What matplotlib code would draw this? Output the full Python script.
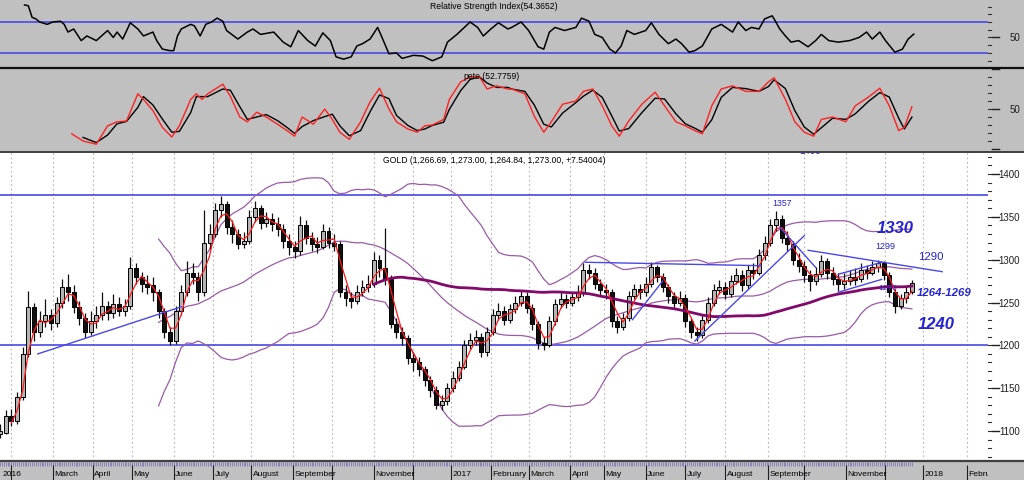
import numpy as np
import pandas as pd
import matplotlib
matplotlib.use("Agg")
import matplotlib.pyplot as plt
from matplotlib.lines import Line2D
from matplotlib.patches import Rectangle
from matplotlib.transforms import blended_transform_factory

plt.rcParams['font.family'] = ['Liberation Sans', 'DejaVu Sans']

# ---------------- data ----------------
bar_step = 3  # one candle sample every 3 trading days
closes = [1098, 1118, 1112, 1140, 1190, 1245, 1215, 1228, 1236, 1226,
          1250, 1268, 1262, 1245, 1232, 1215, 1228, 1235, 1246, 1238,
          1248, 1240, 1246, 1290, 1280, 1272, 1270, 1262, 1240, 1215,
          1205, 1240, 1262, 1285, 1280, 1262, 1320, 1330, 1358, 1365,
          1338, 1330, 1318, 1322, 1350, 1360, 1343, 1348, 1342, 1336,
          1322, 1315, 1310, 1340, 1325, 1318, 1315, 1334, 1320, 1318,
          1262, 1255, 1252, 1262, 1268, 1272, 1300, 1290, 1278, 1225,
          1215, 1208, 1185, 1180, 1172, 1160, 1148, 1130, 1135, 1150,
          1162, 1175, 1200, 1206, 1210, 1192, 1215, 1236, 1240, 1230,
          1242, 1250, 1258, 1244, 1225, 1203, 1200, 1228, 1248, 1254,
          1250, 1256, 1262, 1288, 1285, 1272, 1265, 1262, 1228, 1222,
          1232, 1258, 1266, 1262, 1272, 1292, 1280, 1268, 1258, 1250,
          1255, 1228, 1215, 1212, 1230, 1250, 1265, 1268, 1260, 1275,
          1282, 1270, 1288, 1285, 1305, 1320, 1340, 1348, 1325, 1318,
          1300, 1293, 1282, 1275, 1283, 1298, 1285, 1278, 1272, 1275,
          1280, 1278, 1288, 1285, 1292, 1296, 1282, 1262, 1246, 1255,
          1262, 1273]
highs = [1108, 1124, 1126, 1146, 1198, 1263, 1250, 1240, 1254, 1242,
         1256, 1278, 1283, 1270, 1252, 1238, 1240, 1246, 1262, 1252,
         1260, 1256, 1254, 1303, 1296, 1286, 1282, 1280, 1266, 1244,
         1222, 1246, 1270, 1298, 1296, 1286, 1358, 1342, 1366, 1374,
         1368, 1346, 1336, 1332, 1358, 1368, 1364, 1356, 1354, 1350,
         1342, 1330, 1322, 1351, 1346, 1332, 1326, 1342, 1338, 1330,
         1322, 1270, 1262, 1270, 1276, 1282, 1309, 1306, 1337, 1282,
         1232, 1222, 1212, 1192, 1186, 1176, 1164, 1152, 1142, 1156,
         1170, 1182, 1206, 1214, 1218, 1214, 1222, 1242, 1250, 1246,
         1248, 1258, 1264, 1262, 1248, 1228, 1210, 1234, 1254, 1262,
         1260, 1262, 1270, 1296, 1295, 1290, 1278, 1272, 1266, 1234,
         1238, 1264, 1272, 1272, 1280, 1297, 1294, 1284, 1272, 1262,
         1264, 1260, 1232, 1222, 1236, 1256, 1272, 1276, 1274, 1282,
         1290, 1288, 1294, 1296, 1312, 1328, 1348, 1357, 1352, 1334,
         1322, 1308, 1298, 1288, 1292, 1306, 1302, 1292, 1284, 1284,
         1288, 1290, 1296, 1294, 1299, 1300, 1298, 1286, 1266, 1260,
         1268, 1276]
lows = [1092, 1096, 1106, 1108, 1136, 1186, 1205, 1210, 1222, 1218,
        1222, 1244, 1252, 1238, 1224, 1209, 1212, 1220, 1230, 1230,
        1232, 1234, 1234, 1242, 1272, 1262, 1260, 1252, 1232, 1208,
        1200, 1202, 1236, 1258, 1272, 1252, 1258, 1312, 1326, 1350,
        1330, 1320, 1312, 1314, 1318, 1344, 1336, 1338, 1334, 1328,
        1314, 1306, 1302, 1306, 1318, 1310, 1308, 1312, 1314, 1310,
        1256, 1246, 1244, 1248, 1258, 1262, 1268, 1280, 1270, 1220,
        1208, 1200, 1178, 1170, 1164, 1152, 1140, 1126, 1124, 1130,
        1146, 1158, 1172, 1196, 1200, 1186, 1188, 1212, 1230, 1224,
        1226, 1238, 1246, 1238, 1218, 1196, 1194, 1198, 1224, 1244,
        1244, 1246, 1252, 1258, 1278, 1266, 1258, 1254, 1222, 1214,
        1218, 1228, 1254, 1254, 1258, 1268, 1274, 1262, 1250, 1244,
        1246, 1222, 1208, 1205, 1208, 1226, 1246, 1260, 1254, 1256,
        1272, 1264, 1266, 1278, 1282, 1300, 1316, 1334, 1320, 1310,
        1294, 1286, 1274, 1264, 1270, 1280, 1278, 1270, 1264, 1266,
        1270, 1270, 1274, 1278, 1282, 1286, 1276, 1256, 1238, 1242,
        1250, 1260]

rsi_idx = [13, 15, 17, 19, 21, 25, 28, 32, 34, 36, 39, 43, 46, 51, 57, 60, 62, 65, 69, 73,
           76, 81, 83, 86, 90, 92, 94, 96, 101, 103, 106, 109, 112, 115, 118, 120, 126, 131, 134, 138,
           145, 150, 154, 158, 163, 167, 171, 175, 178, 182, 186, 189, 192, 196, 200, 202, 206, 210, 213, 219,
           224, 229, 234, 237, 242, 249, 253, 256, 260, 264, 269, 271, 276, 280, 285, 288, 291, 294, 299, 305,
           308, 312, 315, 319, 323, 326, 329, 332, 336, 342, 345, 349, 354, 358, 361, 365, 368, 372, 377, 382,
           388, 391, 395, 398, 402, 405, 409, 410, 413, 416, 419, 423, 428, 432, 435, 439, 444, 450, 455, 459,
           462, 466, 469, 474, 478, 481, 484]
rsi_val = [92, 91, 76, 74, 70, 67, 70, 71, 67, 57, 61, 46, 52, 46, 59, 50, 57, 48, 69, 61,
           52, 57, 46, 35, 33, 33, 52, 61, 67, 65, 52, 67, 70, 75, 71, 59, 48, 57, 61, 54,
           57, 44, 38, 59, 46, 39, 56, 46, 25, 22, 25, 39, 42, 48, 63, 52, 29, 30, 23, 27,
           26, 20, 25, 44, 54, 70, 63, 52, 61, 69, 61, 63, 70, 59, 38, 35, 57, 63, 59, 63,
           75, 71, 54, 50, 35, 30, 39, 59, 54, 59, 69, 54, 42, 48, 42, 31, 33, 39, 61, 67,
           57, 70, 59, 63, 61, 74, 78, 74, 61, 52, 44, 46, 38, 46, 54, 46, 44, 46, 50, 57,
           48, 57, 46, 31, 35, 48, 54.37]

stoch_idx = [38, 44, 51, 57, 62, 67, 73, 76, 81, 86, 91, 95, 101, 104, 107, 110, 118, 122, 127, 131,
             136, 141, 147, 152, 156, 160, 166, 172, 176, 180, 185, 191, 196, 201, 206, 210, 216, 221, 225, 229,
             235, 238, 244, 249, 254, 258, 263, 269, 271, 278, 283, 288, 292, 298, 305, 309, 314, 319, 324, 328,
             333, 340, 347, 352, 358, 363, 368, 372, 377, 382, 388, 395, 402, 407, 410, 416, 421, 426, 431, 435,
             441, 448, 453, 460, 466, 471, 476, 479, 483]
stoch_k = [19, 10, 6, 29, 34, 35, 69, 62, 48, 27, 15, 29, 62, 69, 62, 69, 81, 66, 40, 34,
           46, 40, 31, 23, 16, 40, 31, 50, 37, 21, 12, 34, 59, 76, 50, 34, 25, 21, 29, 30,
           37, 62, 84, 90, 90, 75, 79, 75, 75, 69, 41, 21, 34, 56, 60, 72, 75, 54, 29, 16,
           35, 56, 71, 54, 34, 29, 23, 19, 54, 75, 79, 72, 72, 84, 89, 62, 34, 21, 16, 37,
           40, 34, 54, 65, 76, 54, 23, 27, 52.8]

month_idx = [6, 28, 49, 70, 92, 113, 133, 155, 176, 198, 219, 239, 260, 280, 302, 320,
             342, 363, 384, 407, 426, 448, 469, 489, 512]
month_lab = ["", "March", "April", "May", "June", "July", "August", "September", "",
             "November", "", "2017", "February", "March", "April", "May", "June", "July",
             "August", "September", "", "November", "", "2018", "February"]
first_label = "2016"

levels = [1375, 1200]
trend_lines = [((20, 1190), (96, 1245)),
               ((310, 1297), (403, 1293)),
               ((335, 1230), (351, 1275)),
               ((368, 1205), (426, 1328)),
               ((413, 1338), (432, 1291)),
               ((428, 1311), (499, 1286)),
               ((444, 1283), (467, 1297)),
               ((444, 1262), (467, 1277))]

notes = [("1357", 414, 1367, 6.3, 'normal', 'normal'),
         ("1299", 469, 1316, 6.5, 'normal', 'normal'),
         ("1290", 493, 1304, 8.2, 'normal', 'normal'),
         ("1270", 470, 1267, 6.0, 'normal', 'normal'),
         ("1330", 474, 1338, 12, 'bold', 'italic'),
         ("1264-1269", 500, 1262, 8.2, 'bold', 'italic'),
         ("1240", 496, 1226, 12, 'bold', 'italic'),
         ("1400", 429, 1428, 7, 'normal', 'normal')]

# ---------------- layout ----------------
W, H = 1024, 481
PLOT_W = 988
PX_PER_BAR = 1.888
XMAX = PLOT_W / PX_PER_BAR
GRAY = '#c0c0c0'
BLUE = '#4848e8'
NOTE_BLUE = '#2424d0'

fig = plt.figure(figsize=(W / 100, H / 100), dpi=100)
fig.patch.set_facecolor('white')


def fy(py):
    return 1 - py / H


def fx(px):
    return px / W


fig.patches.append(Rectangle((0, fy(153)), 1, 153 / H, transform=fig.transFigure,
                             facecolor=GRAY, edgecolor='none', zorder=-5))
fig.patches.append(Rectangle((0, 0), 1, 19 / H, transform=fig.transFigure,
                             facecolor=GRAY, edgecolor='none', zorder=-5))


def make_ax(top, bottom, face):
    ax = fig.add_axes([0, fy(bottom), PLOT_W / W, (bottom - top) / H])
    ax.set_facecolor(face)
    for s in ax.spines.values():
        s.set_visible(False)
    ax.set_xticks([])
    ax.set_yticks([])
    ax.set_xlim(0, XMAX)
    return ax


ax_rsi = make_ax(0, 68, GRAY)
ax_sto = make_ax(69, 153, GRAY)
ax_main = make_ax(153, 462, 'white')
ax_bot = make_ax(462, 481, GRAY)

ax_rsi.set_ylim(11.9, 99.7)
ax_sto.set_ylim(-3.75, 101.25)
ax_main.set_ylim(1065, 1425.7)
ax_bot.set_ylim(0, 19)


def right_axis(ax, minor_vals, major_vals, labels):
    tr = blended_transform_factory(fig.transFigure, ax.transData)
    for v in minor_vals:
        ax.add_line(Line2D([fx(987.5), fx(991)], [v, v], transform=tr, color='#303030',
                           lw=0.8, clip_on=False))
    for v in major_vals:
        ax.add_line(Line2D([fx(992), fx(998.5)], [v, v], transform=tr, color='#202020',
                           lw=1.0, clip_on=False))
    for v, t in labels:
        ax.text(fx(1020), v, t, transform=tr, ha='right', va='center', fontsize=7,
                color='#202020')


right_axis(ax_rsi, range(20, 100, 10), [50], [(50, "50")])
right_axis(ax_sto, range(10, 100, 10), [0, 50, 100], [(50, "50")])
right_axis(ax_main, range(1070, 1430, 10), range(1100, 1401, 50),
           [(v, str(v)) for v in range(1100, 1401, 50)])

# ---------------- RSI ----------------
for lv in (70, 30):
    ax_rsi.axhline(lv, color=BLUE, lw=1.2)
ax_rsi.plot(rsi_idx, rsi_val, color='black', lw=1.1)
ax_rsi.text(0.5, 0.90, "Relative Strength Index(54.3652)", transform=ax_rsi.transAxes,
            ha='center', va='center', fontsize=6.2)

# ---------------- Stochastic ----------------
sk = pd.Series(stoch_k, dtype=float)
sd = sk.rolling(2).mean()
ax_sto.plot(stoch_idx, sd, color='black', lw=1.0)
ax_sto.plot(stoch_idx, sk, color='#ff2020', lw=1.0)
ax_sto.text(0.498, 0.905, "pete.(52.7759)", transform=ax_sto.transAxes,
            ha='center', va='center', fontsize=6.2)

# ---------------- Main price panel ----------------
for m in month_idx:
    ax_main.axvline(m, color='#b4b4b4', lw=0.8, ls=(0, (1.5, 2.5)), zorder=1)
for lv in levels:
    ax_main.axhline(lv, color=BLUE, lw=1.2, zorder=3)

c = pd.Series(closes, dtype=float)
xs = np.arange(len(closes)) * bar_step
opens = c.shift(1).fillna(c.iloc[0])
ax_main.vlines(xs, lows, highs, color='#101010', lw=0.9, zorder=4)
for x, o, cl in zip(xs, opens, c):
    lo, hi = min(o, cl), max(o, cl)
    if hi - lo < 3:
        lo, hi = lo - 1.5, lo + 1.5
    up = cl >= o
    ax_main.add_patch(Rectangle((x - 1.05, lo), 2.1, hi - lo,
                                facecolor='#b4b4b4' if up else '#101010',
                                edgecolor='black', lw=0.7, zorder=4))

# derived indicators
ma_fast = c.rolling(3).mean()
bb_mid = c.rolling(29).mean()
bb_sd = c.rolling(29).std(ddof=0)
ma_long = c.rolling(67).mean()

pur = '#9a5aa8'
ax_main.plot(xs, bb_mid + 2 * bb_sd, color=pur, lw=0.9, zorder=3)
ax_main.plot(xs, bb_mid, color=pur, lw=0.9, zorder=3)
ax_main.plot(xs, bb_mid - 2 * bb_sd, color=pur, lw=0.9, zorder=3)
ax_main.plot(xs, ma_long, color='#82086a', lw=2.0, zorder=5)
ax_main.plot(xs, ma_fast, color='#ff1818', lw=0.9, zorder=6)

for (x0, y0), (x1, y1) in trend_lines:
    ax_main.plot([x0, x1], [y0, y1], color=BLUE, lw=1.0, zorder=7)

for t, x, y, fs, fw, st in notes:
    ax_main.text(x, y, t, ha='center', va='center', fontsize=fs, fontweight=fw,
                 fontstyle=st, color=NOTE_BLUE, zorder=8, clip_on=True)

ax_main.text(0.5, 0.975, "GOLD (1,266.69, 1,273.00, 1,264.84, 1,273.00, +7.54004)",
             transform=ax_main.transAxes, ha='center', va='center', fontsize=6.2, zorder=9)

# ---------------- bottom date strip ----------------
day_ticks = np.arange(0, xs[-1] + 1)
ax_bot.vlines(day_ticks, 14.5, 18.5, color='#6a6ab8', lw=0.5)
for m, lab in zip(month_idx, month_lab):
    ax_bot.vlines(m, 0, 15, color='#202020', lw=0.8)
    if lab:
        ax_bot.text(m + 0.8, 6.5, lab, ha='left', va='center', fontsize=6.1, clip_on=True)
ax_bot.text(1.5, 6.5, first_label, ha='left', va='center', fontsize=6.1)

# separators
for py, lw, col in [(68.5, 1.6, '#101010'), (153, 1.4, '#404040'), (462, 1.6, '#404040')]:
    fig.add_artist(Line2D([0, 1], [fy(py), fy(py)], transform=fig.transFigure, color=col, lw=lw))

fig.savefig("out.png", dpi=100)
